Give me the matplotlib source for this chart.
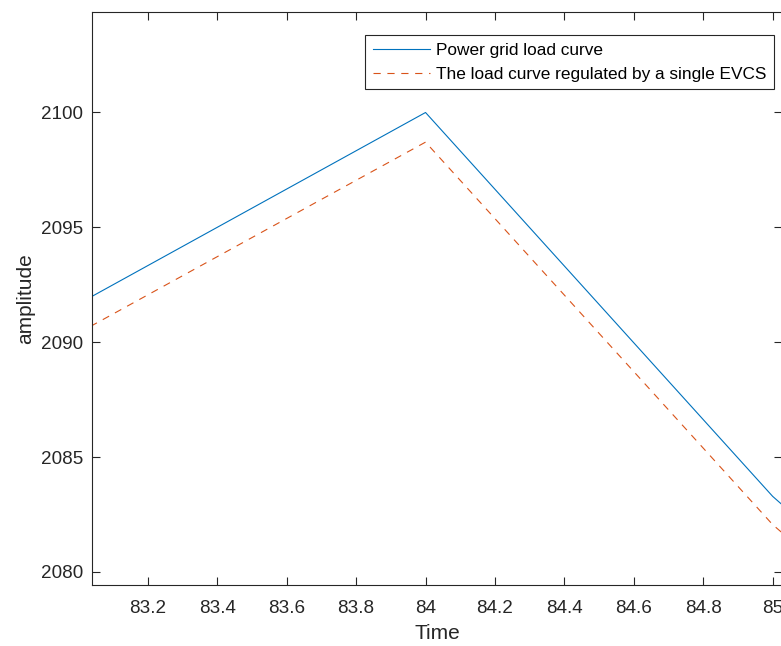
import matplotlib.pyplot as plt
import numpy as np

# hourly samples around the peak
time = [83, 84, 85, 86]
grid_load = [2091.67, 2100.0, 2083.29, 2070.0]
evcs_load = [2090.40, 2098.71, 2082.06, 2069.0]

plt.rcParams['font.family'] = ['Liberation Sans', 'DejaVu Sans']

fig = plt.figure(figsize=(7.81, 6.46), dpi=100)
ax = fig.add_axes([0.1182, 0.0944, 0.8831, 0.8865])

ax.plot(time, grid_load, color='#0072BD', linewidth=0.8, label='Power grid load curve')
ax.plot(time, evcs_load, color='#D95319', linewidth=0.8, linestyle=(0, (6.5, 6)),
        label='The load curve regulated by a single EVCS')

ax.set_xlim(83.04, 85.027)
ax.set_ylim(2079.43, 2104.36)
ax.set_xticks(np.arange(83.2, 85.01, 0.2))
ax.set_xticklabels(['83.2', '83.4', '83.6', '83.8', '84', '84.2', '84.4', '84.6', '84.8', '85'])
ax.set_yticks([2080, 2085, 2090, 2095, 2100])

ax.tick_params(direction='in', top=True, right=True, length=6, width=0.8,
               labelsize=13.6, colors='#262626')
ax.tick_params(axis='x', pad=10.5)
ax.tick_params(axis='y', pad=6.5)
for s in ax.spines.values():
    s.set_color('#262626')
    s.set_linewidth(0.8)

ax.set_xlabel('Time', fontsize=15, color='#262626', labelpad=5)
ax.set_ylabel('amplitude', fontsize=15, color='#262626', labelpad=4)

leg = ax.legend(loc='upper right', bbox_to_anchor=(0.988, 0.960), fontsize=12.4,
                fancybox=False, edgecolor='#262626', framealpha=1, handlelength=3.3,
                borderaxespad=0, borderpad=0.45, labelspacing=0.5, handletextpad=0.35)
leg.get_frame().set_linewidth(0.8)

fig.savefig('out.png', dpi=100)
